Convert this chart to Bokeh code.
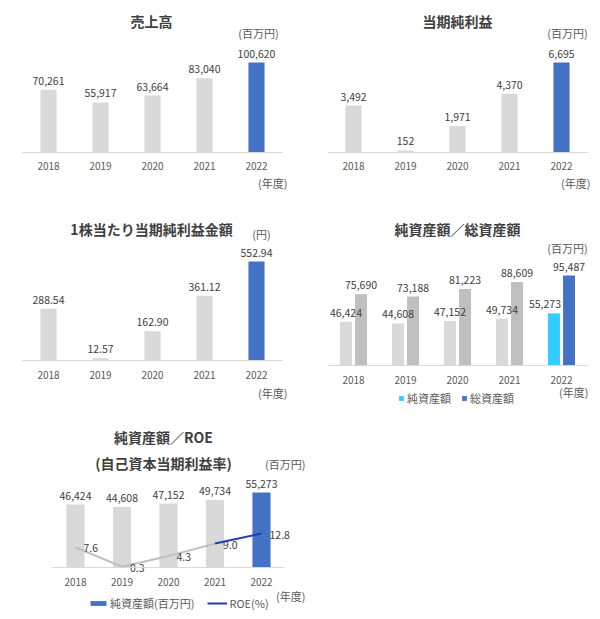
from bokeh.plotting import figure
from bokeh.models import (ColumnDataSource, Range1d, FixedTicker, LinearAxis,
                          Legend, LegendItem)
from bokeh.embed import file_html
from bokeh.resources import INLINE
from bokeh.core.properties import value

# ---------------- data ----------------
years = ["2018", "2019", "2020", "2021", "2022"]
sales = [70261, 55917, 63664, 83040, 100620]          # 売上高 (百万円)
net_income = [3492, 152, 1971, 4370, 6695]           # 当期純利益 (百万円)
eps = [288.54, 12.57, 162.90, 361.12, 552.94]        # 1株当たり当期純利益金額 (円)
net_assets = [46424, 44608, 47152, 49734, 55273]     # 純資産額 (百万円)
total_assets = [75690, 73188, 81223, 88609, 95487]   # 総資産額 (百万円)
roe = [7.6, 0.3, 4.3, 9.0, 12.8]                     # ROE (%)

# ---------------- style ----------------
FONT = "Noto Sans CJK JP"
GRAY = "#D9D9D9"
GRAY2 = "#BFBFBF"
BLUE = "#4472C4"
CYAN = "#33CCFF"
DARKBLUE = "#1F3FAA"
TXT = "#404040"
TXT2 = "#595959"

W, H = 600, 619
xs = list(range(len(years)))
last = len(years) - 1


def colors(base, hi):
    return [hi if i == last else base for i in xs]


p = figure(width=W, height=H, x_range=Range1d(0, W), y_range=Range1d(0, H),
           x_axis_location=None, y_axis_location=None, min_border=0, title=None,
           toolbar_location=None, tools="", output_backend="svg")
p.outline_line_color = None
p.grid.visible = False

geo = {}
xr, yr = {}, {}


def panel(name, left_px, right_px, base_px, units_per_px):
    """Map a chart's category axis and value axis onto its region of the page."""
    u = len(years) / (right_px - left_px)
    x0 = -0.5 - left_px * u
    y1 = base_px * units_per_px
    xr[name] = Range1d(x0, x0 + W * u)
    yr[name] = Range1d(y1 - H * units_per_px, y1)
    geo[name] = (x0, u, y1, units_per_px)


def X(name, px):
    x0, u, _, _ = geo[name]
    return x0 + px * u


def Y(name, py):
    _, _, y1, s = geo[name]
    return y1 - py * s


panel("c1", 22, 282, 152, max(sales) / 90)
panel("c2", 327, 587, 152, max(net_income) / 90)
panel("c3", 22, 282, 360, max(eps) / 99)
panel("c4", 327, 587, 365, max(total_assets) / 90)
panel("c5", 51.75, 284.25, 567, max(net_assets) / 75)
roe_s = max(roe) / 34
yr["roe"] = Range1d(567 * roe_s - H * roe_s, 567 * roe_s)
p.extra_x_ranges = xr
p.extra_y_ranges = yr


def axis(name, standoff):
    ax = LinearAxis(x_range_name=name, y_range_name=name, fixed_location=0,
                    ticker=FixedTicker(ticks=xs),
                    major_label_overrides={i: y for i, y in zip(xs, years)},
                    bounds=(-0.5, len(years) - 0.5))
    ax.major_tick_line_color = None
    ax.minor_tick_line_color = None
    ax.major_tick_out = 0
    ax.major_tick_in = 0
    ax.minor_tick_out = 0
    ax.minor_tick_in = 0
    ax.axis_line_color = GRAY
    ax.axis_line_width = 1
    ax.major_label_text_font = FONT
    ax.major_label_text_font_size = "10px"
    ax.major_label_text_color = TXT2
    ax.major_label_standoff = standoff
    p.add_layout(ax, "below")


def value_labels(name, x, y, labels, shift=None):
    src = ColumnDataSource(dict(x=x, y=y, t=labels, dx=shift or [0] * len(x)))
    p.text(x="x", y="y", text="t", source=src, text_align="center",
           text_baseline="bottom", x_offset="dx", y_offset=-5, text_font=value(FONT),
           text_font_size="10.5px", text_color=TXT,
           x_range_name=name, y_range_name=name)


def note(name, px, py, text, size="11px", align="center", bold=False, color=TXT2):
    p.text(x=[X(name, px)], y=[Y(name, py)], text=[text], text_align=align,
           text_baseline="middle", text_font=value(FONT), text_font_size=size,
           text_font_style="bold" if bold else "normal", text_color=color,
           x_range_name=name, y_range_name=name)


def bars(name, vals, width, cols, offset=0.0):
    src = ColumnDataSource(dict(x=[x + offset for x in xs], v=vals, c=cols))
    return p.vbar(x="x", top="v", width=width, source=src, fill_color="c",
                  line_color=None, x_range_name=name, y_range_name=name)


# ---- chart 1: 売上高 ----
bars("c1", sales, 0.31, colors(GRAY, BLUE))
value_labels("c1", xs, sales, [f"{v:,}" for v in sales])
axis("c1", 9)
note("c1", 151, 20, "売上高", "14px", bold=True, color=TXT)
note("c1", 258, 32, "(百万円)")
note("c1", 287, 182, "(年度)", align="right")

# ---- chart 2: 当期純利益 ----
bars("c2", net_income, 0.31, colors(GRAY, BLUE))
value_labels("c2", xs, net_income, [f"{v:,}" for v in net_income])
axis("c2", 9)
note("c2", 457, 20, "当期純利益", "14px", bold=True, color=TXT)
note("c2", 567, 32, "(百万円)")
note("c2", 590, 182, "(年度)", align="right")

# ---- chart 3: 1株当たり当期純利益金額 ----
bars("c3", eps, 0.31, colors(GRAY, BLUE))
value_labels("c3", xs, eps, [f"{v:.2f}" for v in eps])
axis("c3", 10)
note("c3", 151, 228, "1株当たり当期純利益金額", "14px", bold=True, color=TXT)
note("c3", 261, 233, "(円)")
note("c3", 287, 392, "(年度)", align="right")

# ---- chart 4: 純資産額／総資産額 ----
r_net = bars("c4", net_assets, 0.23, colors(GRAY, CYAN), -0.145)
r_tot = bars("c4", total_assets, 0.23, colors(GRAY2, BLUE), 0.145)
value_labels("c4", [x - 0.145 for x in xs], net_assets, [f"{v:,}" for v in net_assets],
             shift=[-9 if i == last else 0 for i in xs])
value_labels("c4", [x + 0.145 for x in xs], total_assets, [f"{v:,}" for v in total_assets])
axis("c4", 10)
note("c4", 457, 228, "純資産額／総資産額", "14px", bold=True, color=TXT)
note("c4", 567, 247, "(百万円)")
note("c4", 588, 391, "(年度)", align="right")
leg4 = Legend(items=[LegendItem(label="純資産額", renderers=[r_net], index=last),
                     LegendItem(label="総資産額", renderers=[r_tot], index=last)],
              orientation="horizontal", location=(398, 213),
              glyph_width=6, glyph_height=6, label_height=12, label_standoff=3,
              spacing=10, padding=0, margin=0,
              label_text_font=FONT, label_text_font_size="11px", label_text_color=TXT2,
              border_line_color=None, background_fill_alpha=0)
p.add_layout(leg4)

# ---- chart 5: 純資産額／ROE ----
r_bar5 = bars("c5", net_assets, 0.39, colors(GRAY, BLUE))
value_labels("c5", xs, net_assets, [f"{v:,}" for v in net_assets])
axis("c5", 10)
p.line(xs[:last], roe[:last], line_color=GRAY2, line_width=2,
       x_range_name="c5", y_range_name="roe")
r_roe = p.line(xs[last - 1:], roe[last - 1:], line_color=DARKBLUE, line_width=2,
               x_range_name="c5", y_range_name="roe")
roe_src = ColumnDataSource(dict(x=xs, y=roe, t=[f"{v:.1f}" for v in roe]))
p.text(x="x", y="y", text="t", source=roe_src, x_range_name="c5", y_range_name="roe",
       text_align="left", text_baseline="middle", x_offset=8, y_offset=1,
       text_font=value(FONT), text_font_size="10.5px", text_color=TXT)
note("c5", 163, 436, "純資産額／ROE", "14px", bold=True, color=TXT)
note("c5", 163, 462, "(自己資本当期利益率)", "14px", bold=True, color=TXT)
note("c5", 305, 463, "(百万円)", align="right")
note("c5", 305, 595, "(年度)", align="right")
leg5 = Legend(items=[LegendItem(label="純資産額(百万円)", renderers=[r_bar5], index=last),
                     LegendItem(label="ROE(%)", renderers=[r_roe])],
              orientation="horizontal", location=(88, 8),
              glyph_width=20, glyph_height=6, label_height=12, label_standoff=2,
              spacing=13, padding=0, margin=0,
              label_text_font=FONT, label_text_font_size="11px", label_text_color=TXT2,
              border_line_color=None, background_fill_alpha=0)
p.add_layout(leg5)

open("out.html", "w").write(file_html(p, INLINE))
